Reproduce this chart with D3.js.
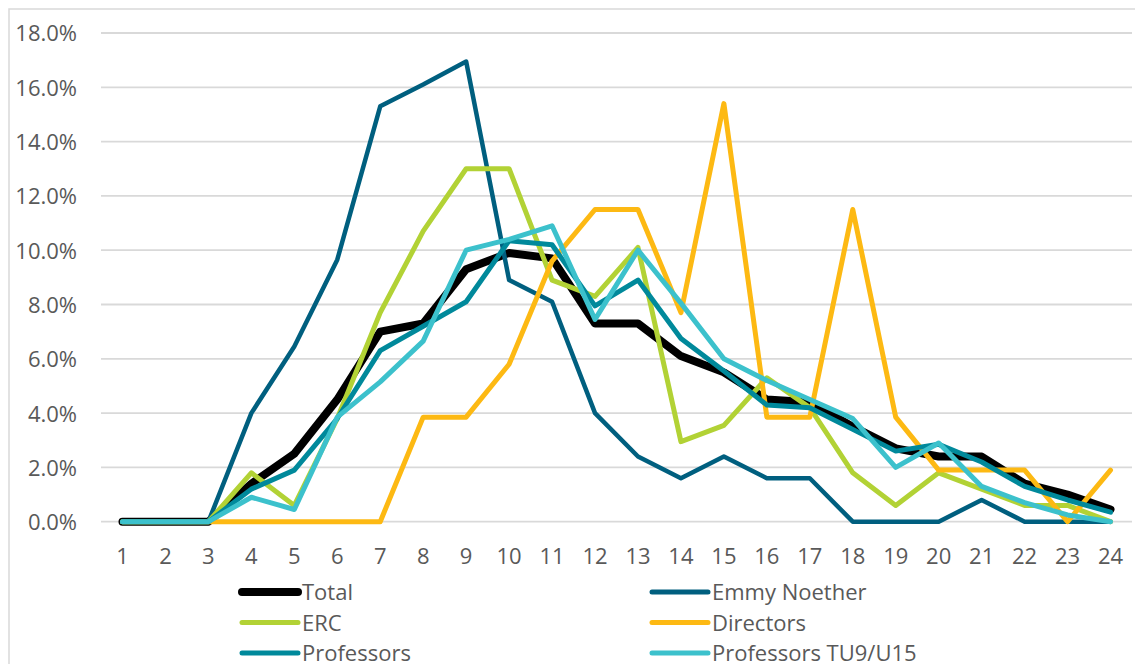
<!DOCTYPE html>
<html>
<head>
<meta charset="utf-8">
<script src="https://cdn.jsdelivr.net/npm/d3@7"></script>
<style>
  body { margin: 0; background: #fff; }
  text { font-family: "Open Sans", "Noto Sans", sans-serif; fill: #595959; }
</style>
</head>
<body>
<div id="chart"></div>
<script>
// categories along the x axis
var categories = d3.range(1, 25);

// series values in percent
var total       = [0, 0, 0, 1.4, 2.5, 4.5, 7.0, 7.3, 9.3, 9.9, 9.7, 7.3, 7.3, 6.1, 5.5, 4.5, 4.4, 3.5, 2.7, 2.4, 2.4, 1.4, 1.0, 0.45];
var emmyNoether = [0, 0, 0, 4.0, 6.45, 9.65, 15.3, 16.1, 16.95, 8.9, 8.1, 4.0, 2.4, 1.6, 2.4, 1.6, 1.6, 0, 0, 0, 0.8, 0, 0, 0];
var erc         = [0, 0, 0, 1.8, 0.6, 3.8, 7.7, 10.7, 13.0, 13.0, 8.9, 8.3, 10.1, 2.95, 3.55, 5.3, 4.2, 1.8, 0.6, 1.8, 1.2, 0.6, 0.6, 0];
var directors   = [0, 0, 0, 0, 0, 0, 0, 3.85, 3.85, 5.8, 9.6, 11.5, 11.5, 7.7, 15.4, 3.85, 3.85, 11.5, 3.85, 1.9, 1.9, 1.9, 0, 1.9];
var professors  = [0, 0, 0, 1.2, 1.9, 3.8, 6.3, 7.2, 8.1, 10.35, 10.2, 7.95, 8.9, 6.75, 5.55, 4.3, 4.2, 3.4, 2.6, 2.85, 2.2, 1.3, 0.8, 0.35];
var profsTU9    = [0, 0, 0, 0.9, 0.45, 3.85, 5.15, 6.65, 10.0, 10.4, 10.9, 7.45, 10.0, 8.05, 6.0, 5.2, 4.5, 3.8, 2.0, 2.9, 1.3, 0.7, 0.25, 0];

var seriesNames  = ["Total", "Emmy Noether", "ERC", "Directors", "Professors", "Professors TU9/U15"];
var seriesValues = [total, emmyNoether, erc, directors, professors, profsTU9];
var seriesColors = ["#000000", "#005f7f", "#b2d235", "#fdb913", "#00899b", "#3cc1cc"];
var seriesWidths = [8, 4.5, 5, 5, 5, 5];

var yTicks = d3.range(0, 19, 2);

var width = 1135, height = 664;

var svg = d3.select("#chart")
  .append("svg")
  .attr("width", width)
  .attr("height", height);

// chart frame (right and bottom edges run off the picture)
svg.append("rect")
  .attr("x", 9).attr("y", 9)
  .attr("width", 1140).attr("height", 680)
  .attr("fill", "none")
  .attr("stroke", "#d9d9d9")
  .attr("stroke-width", 1.5);

var x = d3.scaleBand()
  .domain(categories)
  .range([101, 1132]);

var y = d3.scaleLinear()
  .domain([0, 18])
  .range([521.7, 33]);

// gridlines
svg.append("g")
  .selectAll("line")
  .data(yTicks)
  .enter()
  .append("line")
  .attr("x1", 101).attr("x2", 1132)
  .attr("y1", function(d) { return y(d); })
  .attr("y2", function(d) { return y(d); })
  .attr("stroke", "#d9d9d9")
  .attr("stroke-width", 1.8);

// y axis labels
var yAxis = svg.append("g")
  .attr("transform", "translate(77,0)")
  .call(d3.axisLeft(y).tickValues(yTicks).tickSize(0).tickPadding(0)
    .tickFormat(function(d) { return d.toFixed(1) + "%"; }));
yAxis.select(".domain").remove();
yAxis.selectAll("text")
  .attr("fill", "#595959")
  .style("font-size", "22px")
  .attr("dy", "0.36em");

// x axis labels
var xAxis = svg.append("g")
  .attr("transform", "translate(0,546)")
  .call(d3.axisBottom(x).tickSize(0).tickPadding(0));
xAxis.select(".domain").remove();
xAxis.selectAll("text")
  .attr("fill", "#595959")
  .style("font-size", "22px")
  .attr("dy", "0.84em");

// lines
var line = d3.line()
  .x(function(d, i) { return x(categories[i]) + x.bandwidth() / 2; })
  .y(function(d) { return y(d); });

svg.append("g")
  .selectAll("path")
  .data(seriesValues)
  .enter()
  .append("path")
  .attr("d", function(d) { return line(d); })
  .attr("fill", "none")
  .attr("stroke", function(d, i) { return seriesColors[i]; })
  .attr("stroke-width", function(d, i) { return seriesWidths[i]; })
  .attr("stroke-linejoin", "round")
  .attr("stroke-linecap", "round");

// legend, two columns, row-major
var legend = svg.append("g")
  .selectAll("g")
  .data(seriesNames)
  .enter()
  .append("g")
  .attr("transform", function(d, i) {
    return "translate(" + (i % 2 === 0 ? 242 : 652) + "," + (592 + Math.floor(i / 2) * 30.5) + ")";
  });

legend.append("line")
  .attr("x1", 0).attr("x2", 56)
  .attr("y1", 0).attr("y2", 0)
  .attr("stroke", function(d, i) { return seriesColors[i]; })
  .attr("stroke-width", function(d, i) { return i === 0 ? 8 : 5; })
  .attr("stroke-linecap", "round");

legend.append("text")
  .attr("x", 60)
  .attr("y", 8)
  .style("font-size", "22px")
  .text(function(d) { return d; });
</script>
</body>
</html>
